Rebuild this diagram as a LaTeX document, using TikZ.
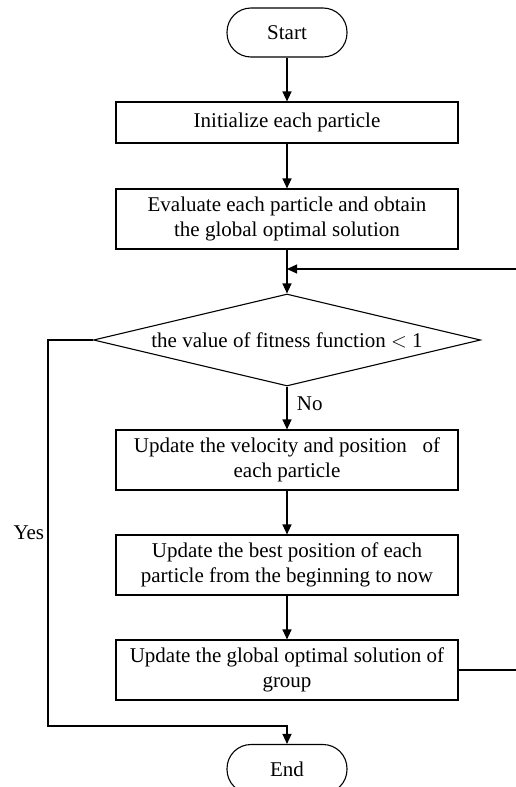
\documentclass[tikz,border=0pt]{standalone}
\usepackage{fontspec}
\setmainfont{Liberation Serif}
\usepackage{tikz}
\usetikzlibrary{shapes.geometric,arrows.meta}

\begin{document}
\begin{tikzpicture}[x=1pt,y=-1pt,line width=1.1pt,>={Triangle[length=10pt,width=9pt]},
    font=\fontsize{21}{25}\selectfont,
    term node/.style={draw,rounded corners=24pt,minimum width=120pt,minimum height=49pt,inner sep=0pt},
    box node/.style={draw,align=center,minimum width=342pt,inner sep=0pt},
    test node/.style={draw,diamond,aspect=4.2,inner sep=0pt,minimum width=387pt,minimum height=92pt}]
        \useasboundingbox (0,0) rectangle (515,787);
        \node[term node] (start) at (287,32.5) {Start};
        \node[box node,minimum height=41pt] (init) at (287,122.5) {Initialize each particle};
        \node[box node,minimum height=60pt] (eval) at (287,219) {Evaluate each particle and obtain\\the global optimal solution};
        \node[test node] (test) at (287,340) {the value of fitness function $<$ 1};
        \node[box node,minimum height=60pt] (vel) at (287,460) {Update the velocity and position~~~of\\each particle};
        \node[box node,minimum height=60pt] (best) at (287,565) {Update the best position of each\\particle from the beginning to now};
        \node[box node,minimum height=60pt] (glob) at (287,670) {Update the global optimal solution of\\group};
        \node[term node] (end) at (287,769) {End};
        \coordinate (join) at (287,269);
        \coordinate (back) at (517,670);
        \coordinate (yes) at (48,726);
        \path[->]
          (start) edge (init)
          (init) edge (eval)
          (eval) edge (test)
          (test) edge node[right,xshift=6pt,pos=0.4] {No} (vel)
          (vel) edge (best)
          (best) edge (glob);
        \draw[->] (glob.east) -- (back) |- (join);
        \draw[->] (test.west) -| (yes) -| (end.north);
        \node[left] (yeslabel) at (48,533) {Yes};
      \end{tikzpicture}
\end{document}
